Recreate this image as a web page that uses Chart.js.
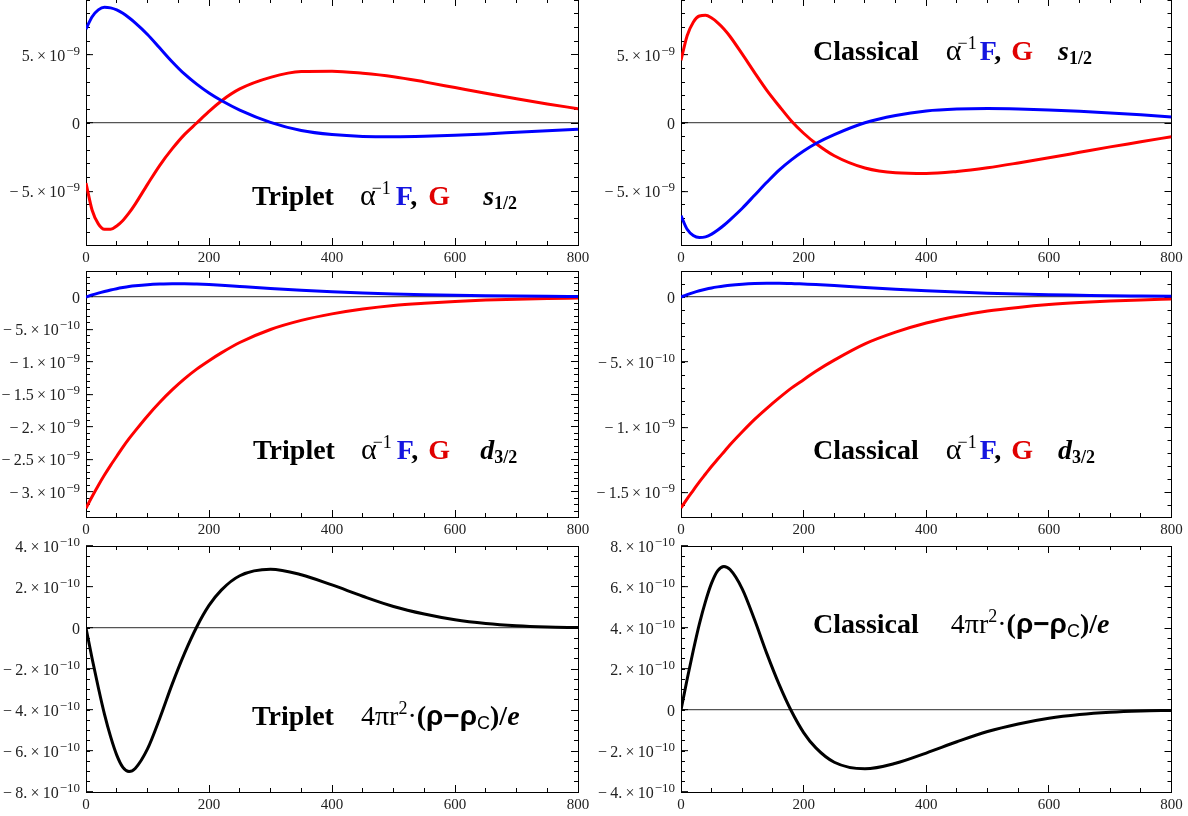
<!DOCTYPE html>
<html>
<head>
<meta charset="utf-8">
<script src="https://cdn.jsdelivr.net/npm/chart.js@4"></script>
<style>
  html, body { margin: 0; padding: 0; background: #fff; }
  body { width: 1188px; height: 816px; position: relative; overflow: hidden; }
  .box { position: absolute; }
  .lab { position: absolute; font-family: "Liberation Serif", "Times New Roman", serif; font-size: 28px; line-height: 28px; white-space: nowrap; color: #000; }
  .lab b { font-weight: bold; }
  .lab sup { font-size: 18px; position: relative; top: -11px; vertical-align: baseline; }
  .lab sub { font-size: 18px; position: relative; top: 4px; vertical-align: baseline; }
  .al { font-size: 30px; }
  .bl { color: #1515e0; }
  .rd { color: #e00000; }
  .sans { font-family: "Liberation Sans", Arial, sans-serif; }
</style>
</head>
<body>
<div class="box" style="left:0px;top:-11px"><canvas id="c1" width="590" height="278"></canvas></div>
<div class="box" style="left:595px;top:-11px"><canvas id="c2" width="590" height="278"></canvas></div>
<div class="box" style="left:0px;top:261px"><canvas id="c3" width="590" height="278"></canvas></div>
<div class="box" style="left:595px;top:261px"><canvas id="c4" width="590" height="278"></canvas></div>
<div class="box" style="left:0px;top:536px"><canvas id="c5" width="590" height="278"></canvas></div>
<div class="box" style="left:595px;top:536px"><canvas id="c6" width="590" height="278"></canvas></div>

<div class="lab" style="left:252px;top:181px"><b>Triplet</b><span class="al" style="margin-left:26px">α</span><sup style="margin-left:-4px">−1</sup><b class="bl" style="margin-left:5px">F</b><b>,</b> <b class="rd" style="margin-left:4px">G</b><b style="margin-left:33px"><i>s</i><sub>1/2</sub></b></div>
<div class="lab" style="left:813px;top:36px"><b>Classical</b><span class="al" style="margin-left:27px">α</span><sup style="margin-left:-4px">−1</sup><b class="bl" style="margin-left:3px">F</b><b>,</b> <b class="rd" style="margin-left:3px">G</b><b style="margin-left:25px"><i>s</i><sub>1/2</sub></b></div>
<div class="lab" style="left:253px;top:435px"><b>Triplet</b><span class="al" style="margin-left:26px">α</span><sup style="margin-left:-4px">−1</sup><b class="bl" style="margin-left:5px">F</b><b>,</b> <b class="rd" style="margin-left:3px">G</b><b style="margin-left:30px"><i>d</i><sub>3/2</sub></b></div>
<div class="lab" style="left:813px;top:435px"><b>Classical</b><span class="al" style="margin-left:27px">α</span><sup style="margin-left:-4px">−1</sup><b class="bl" style="margin-left:3px">F</b><b>,</b> <b class="rd" style="margin-left:3px">G</b><b style="margin-left:25px"><i>d</i><sub>3/2</sub></b></div>
<div class="lab" style="left:252px;top:702px"><b>Triplet</b><span style="margin-left:27px">4πr<sup>2</sup>·</span><b>(</b><b class="sans">ρ−ρ</b><sub class="sans">C</sub><b>)/<i>e</i></b></div>
<div class="lab" style="left:813px;top:610px"><b>Classical</b><span style="margin-left:32px">4πr<sup>2</sup>·</span><b>(</b><b class="sans">ρ−ρ</b><sub class="sans">C</sub><b>)/<i>e</i></b></div>

<script>
// radius values shared by all curves
const rPts = [0, 10, 20, 30, 40, 50, 60, 70, 80, 100, 120, 140, 160, 180, 200, 220, 250, 300, 350, 400, 450, 500, 550, 600, 650, 700, 750, 800];

// s1/2 (units of 1e-9)
const tripletF_s = [6.9, 7.8, 8.3, 8.5, 8.45, 8.3, 8.05, 7.72, 7.35, 6.5, 5.5, 4.5, 3.6, 2.85, 2.2, 1.65, 0.95, 0.05, -0.55, -0.85, -0.98, -1.0, -0.97, -0.9, -0.8, -0.68, -0.56, -0.45];
const tripletG_s = [-4.4, -6.4, -7.4, -7.8, -7.8, -7.55, -7.15, -6.6, -5.95, -4.5, -3.1, -1.9, -0.85, 0.0, 0.85, 1.62, 2.5, 3.35, 3.78, 3.8, 3.65, 3.4, 3.02, 2.6, 2.18, 1.78, 1.4, 1.05];
const classicF_s = [-6.8, -7.8, -8.25, -8.4, -8.35, -8.15, -7.85, -7.5, -7.1, -6.25, -5.3, -4.35, -3.45, -2.7, -2.05, -1.5, -0.85, 0.02, 0.55, 0.88, 1.02, 1.06, 1.03, 0.96, 0.86, 0.74, 0.6, 0.45];
const classicG_s = [4.6, 6.4, 7.4, 7.85, 7.9, 7.7, 7.35, 6.9, 6.35, 5.05, 3.7, 2.4, 1.25, 0.15, -0.75, -1.5, -2.4, -3.3, -3.65, -3.7, -3.55, -3.28, -2.93, -2.55, -2.15, -1.75, -1.38, -1.0];

// d3/2 (units of 1e-10)
const tripletF_d = [0, 0.32, 0.6, 0.85, 1.08, 1.28, 1.45, 1.6, 1.72, 1.9, 2.0, 2.05, 2.05, 2.0, 1.92, 1.82, 1.62, 1.3, 1.02, 0.8, 0.62, 0.47, 0.36, 0.27, 0.2, 0.15, 0.11, 0.08];
const tripletG_d = [-32.5, -30.7, -29.0, -27.4, -25.9, -24.5, -23.1, -21.8, -20.6, -18.3, -16.2, -14.3, -12.6, -11.1, -9.8, -8.6, -7.0, -5.0, -3.6, -2.6, -1.85, -1.3, -0.95, -0.68, -0.48, -0.34, -0.24, -0.17];
const classicF_d = [0, 0.18, 0.34, 0.48, 0.6, 0.7, 0.78, 0.85, 0.91, 0.99, 1.04, 1.06, 1.06, 1.04, 1.0, 0.96, 0.88, 0.73, 0.6, 0.48, 0.38, 0.3, 0.23, 0.18, 0.14, 0.1, 0.08, 0.06];
const classicG_d = [-16.2, -15.5, -14.85, -14.2, -13.6, -13.0, -12.45, -11.9, -11.35, -10.35, -9.4, -8.55, -7.75, -7.0, -6.35, -5.7, -4.85, -3.6, -2.7, -2.0, -1.48, -1.08, -0.8, -0.58, -0.42, -0.3, -0.22, -0.16];

// charge density difference (units of 1e-10)
const tripletRho = [0, -1.5, -2.9, -4.2, -5.3, -6.2, -6.8, -7.0, -6.85, -5.9, -4.4, -2.75, -1.25, 0.05, 1.1, 1.85, 2.55, 2.87, 2.6, 2.1, 1.55, 1.05, 0.68, 0.4, 0.22, 0.11, 0.05, 0.02];
const classicRho = [0, 1.5, 2.9, 4.2, 5.3, 6.2, 6.8, 7.0, 6.85, 5.9, 4.4, 2.75, 1.25, -0.05, -1.1, -1.85, -2.55, -2.87, -2.6, -2.1, -1.55, -1.05, -0.68, -0.4, -0.22, -0.11, -0.05, -0.02];

const BLUE = "#0000ff";
const RED = "#ff0000";
const BLACK = "#000000";
const FONT = '"Liberation Serif", "Times New Roman", serif';

// mathematica style label like 5.×10^-9
function sciParts(v) {
  if (Math.abs(v) < 1e-20) return ["0", ""];
  const e = Math.floor(Math.log10(Math.abs(v)) + 1e-6);
  let m = Math.round((v / Math.pow(10, e)) * 10) / 10;
  let ms = Number.isInteger(m) ? m + "." : String(m);
  ms = ms.replace("-", "\u2212\u2009");
  return [ms + "\u2009\u00d7\u200910", "\u2212" + Math.abs(e)];
}

const sciTicks = {
  id: "sciTicks",
  afterDraw(chart, args, opts) {
    const ctx = chart.ctx;
    const sc = chart.scales.y;
    const xr = chart.chartArea.left - 6;
    ctx.save();
    ctx.fillStyle = "#222";
    ctx.textBaseline = "alphabetic";
    sc.ticks.forEach((t) => {
      const py = sc.getPixelForValue(t.value);
      const [m, e] = sciParts(t.value * opts.unit);
      ctx.font = "13px " + FONT;
      const we = e ? ctx.measureText(e).width + 1 : 0;
      ctx.font = "16px " + FONT;
      const wm = ctx.measureText(m).width;
      ctx.fillText(m, xr - we - wm, py + 6);
      if (e) {
        ctx.font = "13px " + FONT;
        ctx.fillText(e, xr - we + 1, py);
      }
    });
    ctx.restore();
  },
};

function frameAxis(pos, min, max, step, len, weight, border) {
  const horiz = pos === "top" || pos === "bottom";
  return {
    type: "linear",
    position: pos,
    min: min,
    max: max,
    weight: weight,
    ticks: { display: false, stepSize: step, includeBounds: false },
    grid: { drawOnChartArea: false, tickLength: len, tickColor: "#000", tickWidth: 1 },
    border: { display: border, color: "#000", width: 1 },
    afterFit: (s) => {
      if (horiz) s.height = 0;
      else s.width = 0;
    },
  };
}

function makeChart(id, series, yMin, yMax, major, minor, unit, padRight) {
  new Chart(document.getElementById(id).getContext("2d"), {
    type: "line",
    data: {
      datasets: series.map((s) => ({
        data: rPts.map((r, i) => ({ x: r, y: s.values[i] })),
        borderColor: s.color,
        borderWidth: 3,
        pointRadius: 0,
        fill: false,
        cubicInterpolationMode: "monotone",
      })),
    },
    options: {
      responsive: false,
      animation: false,
      events: [],
      layout: { autoPadding: false, padding: { left: 0, top: 10, bottom: 0, right: padRight } },
      plugins: { legend: { display: false }, tooltip: { enabled: false }, sciTicks: { unit: unit } },
      scales: {
        x: {
          type: "linear",
          position: "bottom",
          min: 0,
          max: 800,
          weight: 1,
          ticks: {
            stepSize: 200,
            includeBounds: false,
            maxRotation: 0,
            autoSkip: false,
            padding: 11,
            color: "#222",
            font: { family: FONT, size: 15 },
            callback: (v) => String(v),
          },
          grid: { drawOnChartArea: false, tickLength: -7, tickColor: "#000", tickWidth: 1 },
          border: { display: true, color: "#000", width: 1 },
          afterFit: (s) => {
            s.height = 22;
            s.paddingLeft = 0;
            s.paddingRight = 0;
          },
        },
        xm: frameAxis("bottom", 0, 800, 50, -4, 0, false),
        xt: frameAxis("top", 0, 800, 200, -7, 1, true),
        xtm: frameAxis("top", 0, 800, 50, -4, 0, false),
        y: {
          type: "linear",
          position: "left",
          min: yMin,
          max: yMax,
          weight: 1,
          ticks: { display: false, stepSize: major, includeBounds: false },
          grid: {
            drawOnChartArea: true,
            color: (c) => (c.tick && Math.abs(c.tick.value) < 1e-9 ? "#555" : "rgba(0,0,0,0)"),
            lineWidth: 1.3,
            tickLength: -7,
            tickColor: "#000",
            tickWidth: 1,
          },
          border: { display: true, color: "#000", width: 1 },
          afterFit: (s) => {
            s.width = 86;
          },
        },
        ym: frameAxis("left", yMin, yMax, minor, -4, 0, false),
        yr: frameAxis("right", yMin, yMax, major, -7, 1, true),
        yrm: frameAxis("right", yMin, yMax, minor, -4, 0, false),
      },
    },
    plugins: [sciTicks],
  });
}

makeChart("c1", [{ values: tripletF_s, color: BLUE }, { values: tripletG_s, color: RED }], -8.95, 9.1, 5, 1, 1e-9, 12);
makeChart("c2", [{ values: classicF_s, color: BLUE }, { values: classicG_s, color: RED }], -8.95, 9.1, 5, 1, 1e-9, 13.5);
makeChart("c3", [{ values: tripletF_d, color: BLUE }, { values: tripletG_d, color: RED }], -33.85, 4, 5, 1, 1e-10, 12);
makeChart("c4", [{ values: classicF_d, color: BLUE }, { values: classicG_d, color: RED }], -16.9, 2, 5, 1, 1e-10, 13.5);
makeChart("c5", [{ values: tripletRho, color: BLACK }], -8, 4, 2, 0.5, 1e-10, 12);
makeChart("c6", [{ values: classicRho, color: BLACK }], -4, 8, 2, 0.5, 1e-10, 13.5);
</script>
</body>
</html>
